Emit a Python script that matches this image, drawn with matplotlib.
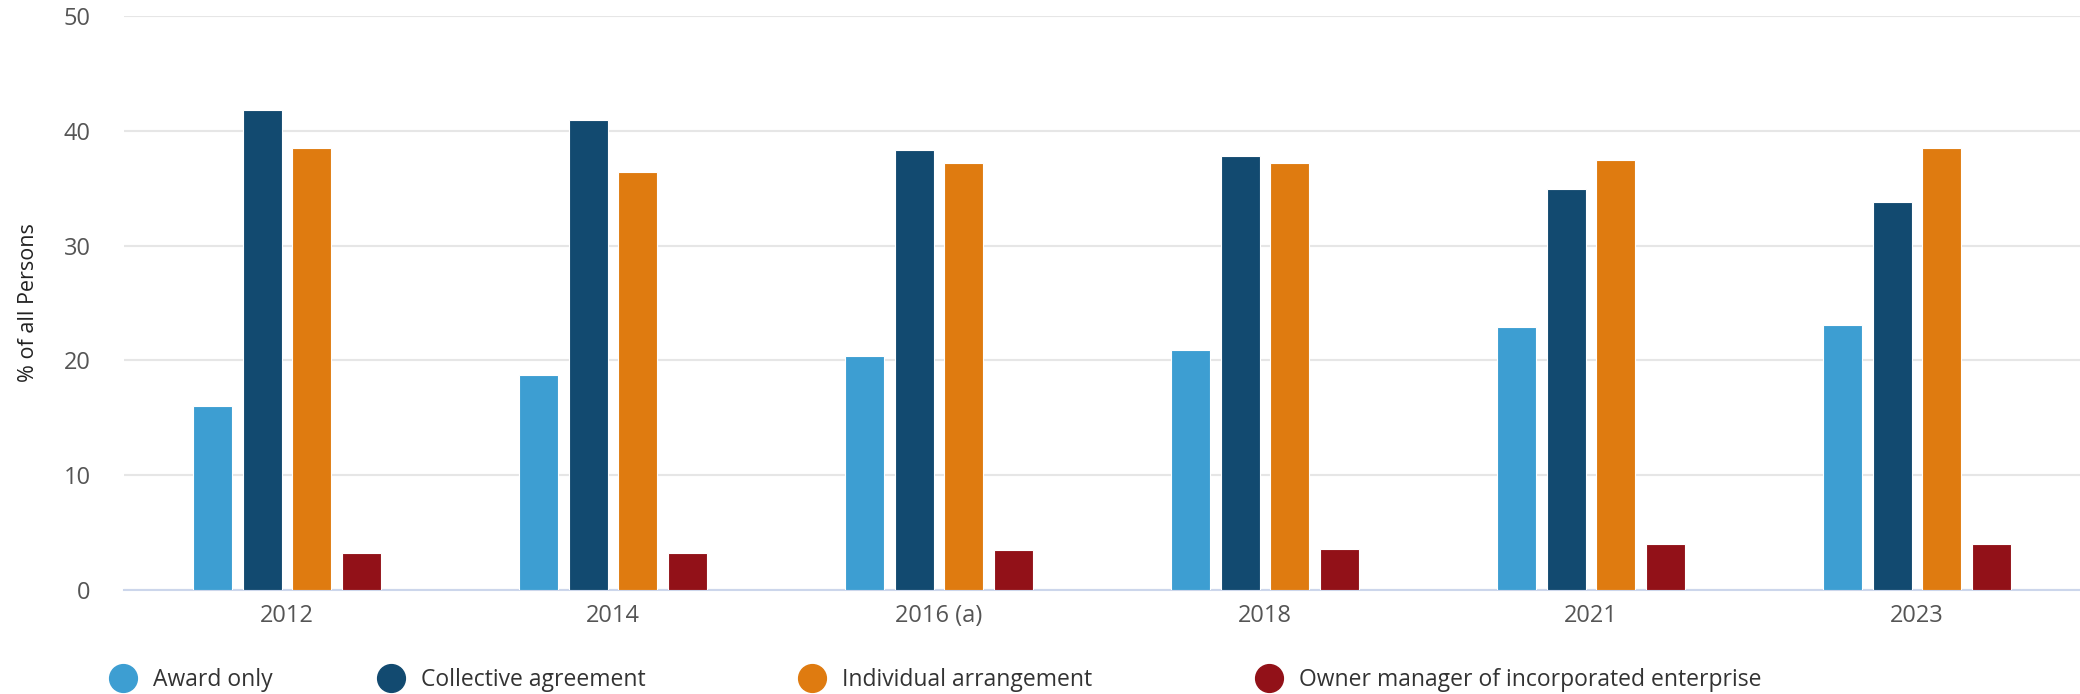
import matplotlib
matplotlib.use("Agg")
import matplotlib.pyplot as plt
from matplotlib.lines import Line2D
import numpy as np

categories = ["2012", "2014", "2016 (a)", "2018", "2021", "2023"]
series_names = ["Award only", "Collective agreement", "Individual arrangement",
                "Owner manager of incorporated enterprise"]
award_only = [16.0, 18.7, 20.4, 20.9, 22.9, 23.1]
collective_agreement = [41.8, 40.9, 38.3, 37.8, 34.9, 33.8]
individual_arrangement = [38.5, 36.4, 37.2, 37.2, 37.5, 38.5]
owner_manager = [3.2, 3.2, 3.5, 3.6, 4.0, 4.0]
yticks = [0, 10, 20, 30, 40, 50]

colors = ["#3D9ED2", "#124A70", "#DF7B10", "#921118"]
series = [award_only, collective_agreement, individual_arrangement, owner_manager]

plt.rcParams['font.family'] = ['Open Sans', 'DejaVu Sans']

W, H = 2080, 694
fig = plt.figure(figsize=(W/100, H/100), dpi=100)
ax = fig.add_axes([124/W, 1-590/H, 1-124/W, (590-16)/H])

x = np.arange(len(categories))
step = 0.152
width = 0.12
for i, (vals, c) in enumerate(zip(series, colors)):
    ax.bar(x + (i - 1.5) * step, vals, width=width, color=c, edgecolor="white",
           linewidth=0.8, zorder=3, label=series_names[i])

ax.set_xlim(-0.5, len(categories) - 0.5)
ax.set_ylim(0, 50)
ax.set_yticks(yticks)
ax.set_yticklabels([str(t) for t in yticks], fontsize=17, color="#555555")
ax.set_xticks(x)
ax.set_xticklabels(categories, fontsize=17, color="#555555")
ax.tick_params(axis='x', length=0, pad=10)
ax.tick_params(axis='y', length=0, pad=24)
ax.grid(axis='y', color="#e6e6e6", linewidth=1.5, zorder=0)
for s in ["top", "right", "left"]:
    ax.spines[s].set_visible(False)
ax.spines["bottom"].set_color("#ccd6eb")
ax.spines["bottom"].set_linewidth(1.5)
ax.set_ylabel("% of all Persons", fontsize=15.5, color="#222222")
ax.yaxis.set_label_coords((39 - 124) / (W - 124), (590 - 303) / (590 - 16))

fs = 16.5
fs_px = fs * 100 / 72
centers = [123, 391, 812, 1269]
for name, c, cx in zip(series_names, colors, centers):
    h = Line2D([0], [0], marker='o', linestyle='none', markersize=20,
               markerfacecolor=c, markeredgecolor=c)
    x0 = (cx - 0.6 * fs_px) / W
    fig.legend([h], [name], loc="center left", bbox_to_anchor=(x0, 1-680/H),
               frameon=False, fontsize=fs, handlelength=1.2, handletextpad=0.7,
               borderpad=0, borderaxespad=0, labelcolor="#333333")

fig.savefig("out.png", dpi=100)
